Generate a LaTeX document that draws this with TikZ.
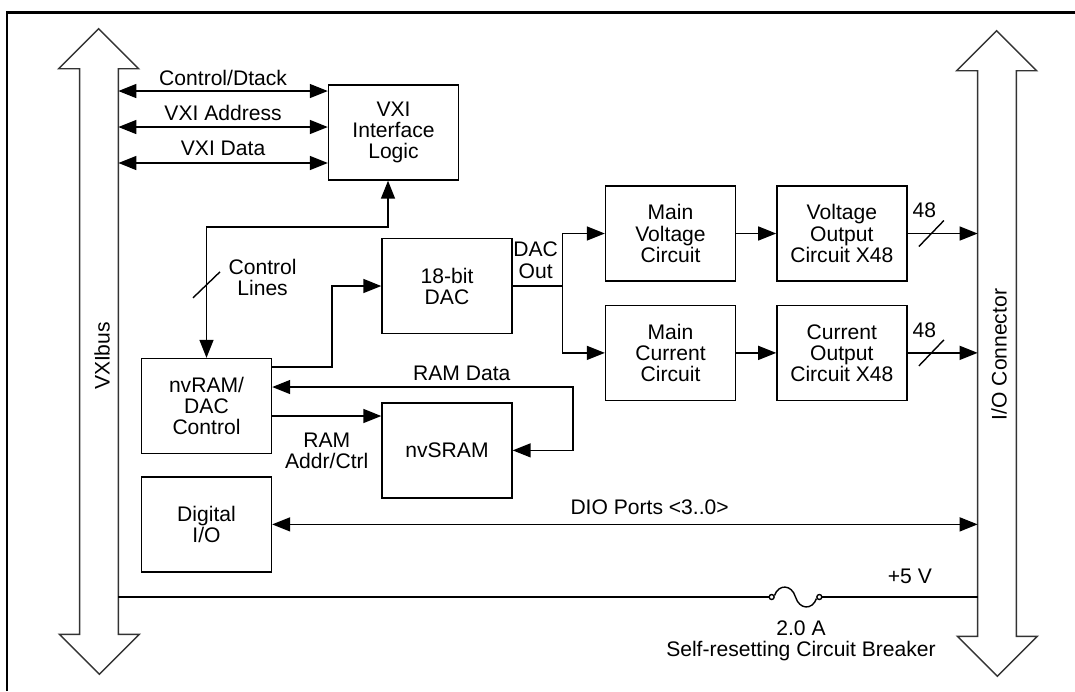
\documentclass[tikz,border=0pt]{standalone}
\usepackage{fontspec}
\setmainfont{Liberation Sans}
\usetikzlibrary{positioning}
\usetikzlibrary{arrows.meta}
\tikzset{
  box/.style            = { rectangle, minimum width=2.6cm, minimum height=1.9cm },
  border/.style         = { line width=0.8pt, draw=black },
}
\tikzset{
  block/.style={
    box,
    border,
    align=center,
    inner sep=0pt
  },
  shaft/.style          = { rectangle, minimum width=0.76cm, minimum height=11.3cm, inner sep=0pt },
  busline/.style        = { line width=0.8pt, draw=black!80 },
  relation/.style       = { line width=0.8pt, draw=black, >={Triangle[length=3.6mm, width=2.8mm]} },
  link/.style           = { relation, -> },
  biline/.style         = { relation, <-> },
  lbl/.style            = { inner sep=1pt }
}

\begin{document}
\begin{tikzpicture}[x=0.02cm, y=-0.02cm, font=\fontsize{12}{12}\selectfont]
  \useasboundingbox (0,0) rectangle (1075,691);
  \draw [line width=1.5pt] (7,691) -- (7,12.5) -- (1075,12.5);

  % the two buses
  \node (vxibus) [shaft] at (99,351.5)  {};
  \node (iobus)  [shaft] at (997,353.5) {};
  \node (vxilbl) [lbl, rotate=90] at ([xshift=0.06cm, yshift=-0.09cm]vxibus.center) {VXIbus};
  \node (iolbl)  [lbl, rotate=90] at ([xshift=0.04cm, yshift=-0.02cm]iobus.center) {I/O Connector};
  \draw [busline] (vxibus.north west) -- ++(-21,0) -- ++(40,-40) -- ++(40,40) -- (vxibus.north east)
    -- (vxibus.south east) -- ++(21,0) -- ++(-40,40) -- ++(-40,-40) -- (vxibus.south west) -- cycle;
  \draw [busline] (iobus.north west) -- ++(-21,0) -- ++(40,-40) -- ++(40,40) -- (iobus.north east)
    -- (iobus.south east) -- ++(21,0) -- ++(-40,40) -- ++(-40,-40) -- (iobus.south west) -- cycle;

  % blocks
  \node (vxi)    [block] at (393.5,132.5) {VXI\\Interface\\Logic};
  \node (nvram)  [block] at (206.5,406)   {nvRAM/\\DAC\\Control};
  \node (dio)    [block, below=0.44cm of nvram] {Digital\\I/O};
  \node (dac)    [block] at (447,286)     {18-bit\\DAC};
  \node (nvsram) [block, below=1.36cm of dac]  {nvSRAM};
  \node (mainv)  [block] at (670.5,233.5) {Main\\Voltage\\Circuit};
  \node (vout)   [block, right=0.8cm of mainv] {Voltage\\Output\\Circuit X48};
  \node (mainc)  [block, below=0.46cm of mainv] {Main\\Current\\Circuit};
  \node (cout)   [block, right=0.8cm of mainc] {Current\\Output\\Circuit X48};

  % VXIbus side
  \coordinate (ctlA) at ([yshift=0.83cm]vxi.west);
  \coordinate (adrA) at ([yshift=0.11cm]vxi.west);
  \coordinate (datA) at ([yshift=-0.61cm]vxi.west);
  \draw [biline] (vxibus.east |- ctlA) -- node[lbl, above=1.8pt] {Control/Dtack} (ctlA);
  \draw [biline] (vxibus.east |- adrA) -- node[lbl, above=2.4pt] {VXI Address} (adrA);
  \draw [biline] (vxibus.east |- datA) -- node[lbl, above=2.5pt] {VXI Data} (datA);

  \draw [biline] (nvram.north) -- coordinate[pos=0.557] (ctlcut) ++(0,-131) -| ([xshift=-0.11cm]vxi.south);
  \draw [relation] (ctlcut) +(-13.5,13) -- +(13.5,-13);
  \node (ctllbl) [lbl, align=center, right=0.4cm of ctlcut, yshift=0.14cm] {Control\\Lines};

  % nvRAM side
  \coordinate (toDac)  at ([yshift=0.78cm]nvram.east);
  \coordinate (ramDat) at ([yshift=0.38cm]nvram.east);
  \coordinate (ramAdr) at ([yshift=-0.2cm]nvram.east);
  \draw [link] (toDac) -- ++(60,0) |- (dac.west);
  \draw [biline] (ramDat) -- node[lbl, pos=0.63, above=2pt] {RAM Data} ++(301,0) |- (nvsram.east);
  \draw [link] (ramAdr) -- node[lbl, below=8pt, align=center] {RAM\\Addr/Ctrl} (nvsram.west |- ramAdr);
  \draw [biline] (dio.east) -- node[lbl, pos=0.535, above=4pt] {DIO Ports <3..0>} (iobus.west |- dio.east);

  % DAC out
  \coordinate (split) at ([xshift=1cm]dac.east);
  \draw [relation] (dac.east) -- node[lbl, pos=0.46, above=3pt, align=center] {DAC\\Out} (split);
  \draw [link] (split) |- (mainv.west);
  \draw [link] (split) |- (mainc.west);
  \draw [link] (mainv) -- (vout);
  \draw [link] (mainc) -- (cout);

  \draw [link] (vout.east) -- node[lbl, pos=0.24, above=7.5pt] {48} coordinate[pos=0.34] (vcut) (iobus.west |- vout.east);
  \draw [relation] (vcut) +(-12.5,13) -- +(12.5,-13);
  \draw [link] (cout.east) -- node[lbl, pos=0.24, above=7.5pt] {48} coordinate[pos=0.34] (ccut) (iobus.west |- cout.east);
  \draw [relation] (ccut) +(-12.5,13) -- +(12.5,-13);

  % +5 V with breaker
  \node (brk) [inner sep=0pt, minimum width=1.04cm, minimum height=0.5cm] at (795.5,597) {};
  \draw [relation] (vxibus.east |- brk) -- (brk.west);
  \draw [relation] (brk.east) -- node[lbl, pos=0.565, above=6.4pt] {+5 V} (iobus.west |- brk);
  \draw [relation] ([xshift=0.05cm]brk.west) circle (0.05cm);
  \draw [relation] ([xshift=-0.05cm]brk.east) circle (0.05cm);
  \draw [relation, shift={(brk.center)}] (-21,-1.5) .. controls (-17,-13) and (-4,-13) .. (0,0)
    .. controls (4,13) and (17,13) .. (21,1.5);
  \node (brklbl) [lbl, align=center, below=0.17cm of brk, xshift=0.11cm] {2.0 A\\Self-resetting Circuit Breaker};
\end{tikzpicture}
\end{document}
